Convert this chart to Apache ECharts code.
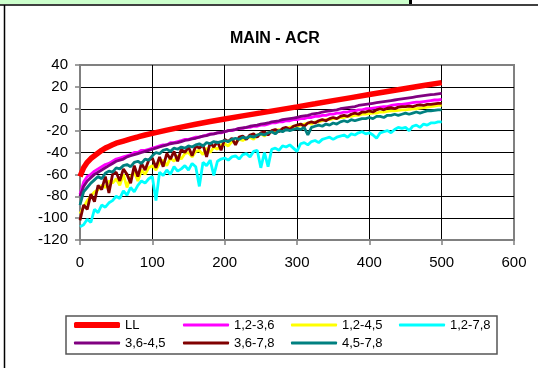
<!DOCTYPE html>
<html>
<head>
<meta charset="utf-8">
<script src="https://cdn.jsdelivr.net/npm/echarts@6/dist/echarts.min.js"></script>
<style>
html,body{margin:0;padding:0;background:#fff;}
#chart{width:538px;height:368px;}
</style>
</head>
<body>
<div id="chart"></div>
<script>
// ---- data ----
const xTicks = [0, 100, 200, 300, 400, 500, 600];
const yTicks = [-120, -100, -80, -60, -40, -20, 0, 20, 40];

const xsLL = [0,5,10,15,20,25,30,35,40,45,50,60,70,80,90,100,120,140,160,180,200,225,250,275,300,325,350,375,400,425,450,475,500];
const LL = [-62,-54,-49,-45.5,-43,-40.5,-38,-36,-34.5,-33,-31.5,-29.5,-27.5,-25.8,-24,-22.5,-19.5,-16.8,-14.2,-11.7,-9.3,-6.5,-3.8,-1,1.7,4.5,7.4,10.2,13,15.8,18.5,21.2,23.9];

const xs = [0,5,10,15,20,25,30,35,40,45,50,55,60,65,70,75,80,85,90,95,
  100,105,110,115,120,125,130,135,140,145,150,155,160,165,170,175,180,185,190,195,
  200,205,210,215,220,225,230,235,240,245,250,255,260,265,270,275,280,285,290,295,
  300,305,310,315,320,325,330,335,340,345,350,355,360,365,370,375,380,385,390,395,
  400,405,410,415,420,425,430,435,440,445,450,455,460,465,470,475,480,485,490,495,500];

const s12_36 = [-78,-67,-62,-60,-57,-55,-53,-51,-50,-48,
  -46,-45,-44,-43,-42,-40,-40,-38,-38,-37,
  -36,-35,-34,-33,-33,-31,-31,-30,-29,-28,
  -28,-27,-26,-26,-25,-24,-23,-23,-22,-22,
  -21,-20,-20,-19,-18,-18,-17,-17,-16,-16,
  -15,-15,-14,-13,-13,-12,-12,-11,-11,-10,
  -10,-9,-9,-8,-8,-7,-7,-6,-6,-5,
  -5,-4,-4,-3,-3,-2,-2,-1,-1,0,
  0,0.5,1,1.5,2,2,3,3.5,4,4,
  4.5,5,5.5,6,6,6.5,7,7.5,8,8,8.5];

const s12_45 = [-96,-90,-84,-80,-76,-74,-70,-72,-66,-68,
  -64,-70,-60,-72,-62,-58,-66,-56,-60,-54,
  -52,-56,-50,-47,-52,-45,-48,-43,-46,-41,
  -40,-44,-39,-38,-42,-36,-40,-35,-37,-33,
  -32,-34,-30,-31,-28,-29,-27,-26,-28,-24,
  -23,-25,-22,-21,-20,-19,-20,-18,-17,-16,
  -16,-15,-14,-13,-14,-12,-12,-11,-10,-10,
  -9,-9,-8,-8,-7,-7,-6,-6,-5,-5,
  -4.5,-4,-4,-3,-3,-2.5,-2,-2,-1.5,-1,
  -1,-0.5,0,0,0.5,1,1.5,2,2.5,3,3];

const s12_78 = [-108,-106,-101,-104,-92,-95,-88,-90,-86,-84,
  -80,-82,-75,-79,-72,-76,-70,-66,-68,-64,
  -62,-84,-58,-61,-56,-60,-53,-57,-55,-52,
  -56,-50,-53,-71,-49,-52,-47,-61,-48,-46,
  -45,-47,-44,-43,-46,-42,-41,-44,-39,-38,
  -54,-40,-53,-37,-36,-38,-34,-35,-33,-36,
  -39,-32,-31,-33,-30,-29,-31,-28,-27,-26,
  -28,-26,-25,-24,-26,-23,-24,-22,-21,-23,
  -22,-24,-27,-22,-21,-20,-22,-19,-17,-18,
  -17,-20,-16,-15,-17,-14,-15,-13,-13,-12,-12];

const s36_45 = [-80,-71,-66,-63,-60,-58,-56,-54,-52,-50,
  -48,-47,-46,-44,-43,-42,-41,-40,-39,-38,
  -37,-36,-35,-34,-33,-32,-31.5,-31,-30,-29,
  -28.5,-27.5,-27,-26,-25,-24.5,-23.5,-23,-22,-21.5,
  -21,-20,-19.5,-19,-18,-17.5,-17,-16,-15.5,-15,
  -14,-13.5,-13,-12,-11.5,-11,-10,-9.5,-9,-8.5,
  -8,-7,-6.5,-6,-5,-4.5,-4,-3,-2.5,-2,
  -1.5,-1,0,0.5,1,1.5,2,3,3.5,4,
  4.5,5,5.5,6,6.5,7,7.5,8,8.5,9,
  9.5,10,10.5,11,11.5,12,12.5,13,13.2,13.6,14];

const s36_78 = [-102,-88,-92,-78,-85,-70,-74,-62,-77,-60,
  -58,-66,-55,-60,-68,-52,-62,-50,-56,-47,
  -45,-54,-44,-53,-41,-46,-39,-48,-37,-40,
  -35,-43,-34,-36,-33,-44,-31,-35,-30,-38,
  -28,-30,-27,-33,-26,-25,-28,-24,-23,-26,
  -22,-21,-24,-20,-19,-21,-18,-17,-19,-16,
  -15,-14,-16,-13,-12,-13,-11,-10,-11,-9,
  -8,-9,-7,-6,-7,-5,-4,-5,-3,-3,
  -2,-3,-1,0,-1,0.5,1,0,1.5,2,
  2,2.5,2,3,3.5,3,4,4,4.5,5,5];

const s45_78 = [-88,-76,-72,-68,-65,-62,-64,-59,-57,-58,
  -54,-55,-52,-51,-53,-49,-48,-50,-46,-47,
  -43,-40,-41,-38,-37,-39,-36,-37,-35,-36,
  -34,-35,-33,-32,-34,-31,-32,-30,-31,-30,
  -29,-30,-28,-27,-28,-26,-27,-25,-26,-24,
  -23,-24,-22,-21,-23,-20,-21,-19,-20,-19,
  -18,-19,-17,-24,-17,-16,-15,-16,-14,-15,
  -13,-14,-12,-11,-12,-10,-11,-10,-9,-9,
  -8,-9,-7,-7,-8,-6,-6,-5,-6,-5,
  -4,-5,-4,-3,-4,-3,-2,-2,-1.5,-1,-1];

const seriesNames = ['LL','1,2-3,6','1,2-4,5','1,2-7,8','3,6-4,5','3,6-7,8','4,5-7,8'];
const seriesColors = ['#ff0000','#ff00ff','#ffff00','#00ffff','#800080','#800000','#008080'];
const seriesValues = [LL, s12_36, s12_45, s12_78, s36_45, s36_78, s45_78];

// ---- chart ----
const FONT = '"Liberation Sans", Arial, sans-serif';
const chart = echarts.init(document.getElementById('chart'), null, {renderer: 'canvas'});

const series = seriesNames.map((name, k) => {
  const xArr = k === 0 ? xsLL : xs;
  return {
    name: name,
    type: 'line',
    symbol: 'none',
    smooth: false,
    animation: false,
    color: seriesColors[k],
    lineStyle: {color: seriesColors[k], width: k === 0 ? 5.5 : 2.8},
    data: xArr.map((x, i) => [x, seriesValues[k][i]])
  };
});

function legendBlock(left, top, names, h) {
  return {
    orient: 'vertical',
    left: left,
    top: top,
    padding: 0,
    icon: 'roundRect',
    itemWidth: 46,
    itemHeight: h,
    itemGap: 18 - 13,
    selectedMode: false,
    textStyle: {fontFamily: FONT, fontSize: 13, color: '#000', lineHeight: 13},
    data: names
  };
}

const gridLineColorsY = yTicks.map((v, i) => i === yTicks.length - 1 ? '#808080' : '#000000');
const gridLineColorsX = xTicks.map((v, i) => i === xTicks.length - 1 ? '#808080' : '#000000');

chart.setOption({
  animation: false,
  backgroundColor: '#ffffff',
  title: {
    text: 'MAIN - ACR',
    left: 230,
    top: 31,
    padding: 0,
    textStyle: {fontFamily: FONT, fontSize: 16, fontWeight: 'bold', color: '#000'}
  },
  grid: {
    left: 80, top: 65, right: 24, bottom: 128,
    show: true, borderColor: '#808080', borderWidth: 2, backgroundColor: '#ffffff'
  },
  xAxis: {
    type: 'value',
    min: xTicks[0], max: xTicks[xTicks.length - 1], interval: 100,
    axisLine: {show: true, onZero: false, lineStyle: {color: '#808080', width: 2}},
    axisTick: {show: true, length: 5, lineStyle: {color: '#808080', width: 1.5}},
    axisLabel: {fontFamily: FONT, fontSize: 15, color: '#000', margin: 15},
    splitLine: {show: true, lineStyle: {color: gridLineColorsX, width: 1}}
  },
  yAxis: {
    type: 'value',
    min: yTicks[0], max: yTicks[yTicks.length - 1], interval: 20,
    axisLine: {show: true, onZero: false, lineStyle: {color: '#808080', width: 2}},
    axisTick: {show: true, length: 5, lineStyle: {color: '#808080', width: 1.5}},
    axisLabel: {fontFamily: FONT, fontSize: 15, color: '#000', margin: 12},
    splitLine: {show: true, lineStyle: {color: gridLineColorsY, width: 1}}
  },
  legend: [
    legendBlock(74, 318.5, [seriesNames[0]], 6),
    legendBlock(74, 336.5, [seriesNames[4]], 3),
    legendBlock(183, 318.5, [seriesNames[1], seriesNames[5]], 3),
    legendBlock(291, 318.5, [seriesNames[2], seriesNames[6]], 3),
    legendBlock(399, 318.5, [seriesNames[3]], 3)
  ],
  graphic: [
    {type: 'rect', left: 0, top: 0, shape: {x: 0, y: 0, width: 410, height: 5}, style: {fill: '#ccffcc'}, silent: true},
    {type: 'line', shape: {x1: 410.5, y1: 0, x2: 410.5, y2: 6}, style: {stroke: '#000', lineWidth: 3}, silent: true},
    {type: 'line', shape: {x1: 0, y1: 5, x2: 538, y2: 5}, style: {stroke: '#404040', lineWidth: 2}, silent: true},
    {type: 'line', shape: {x1: 4.5, y1: 5, x2: 4.5, y2: 368}, style: {stroke: '#000', lineWidth: 1.5}, silent: true},
    {type: 'rect', shape: {x: 66, y: 316, width: 431, height: 38}, style: {fill: 'none', stroke: '#555555', lineWidth: 1.5}, silent: true}
  ],
  series: series
});
</script>
</body>
</html>
